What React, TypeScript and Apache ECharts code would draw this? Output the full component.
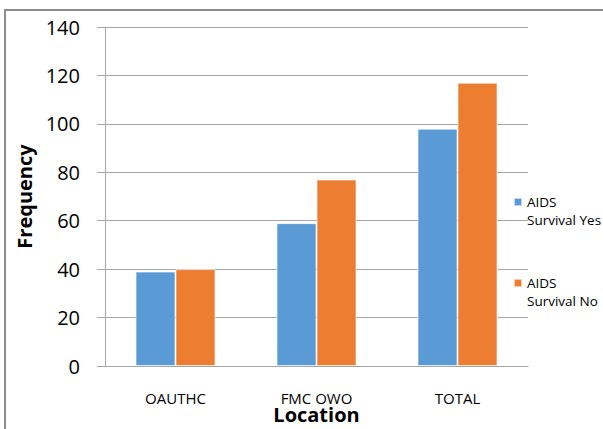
import React, { useEffect, useRef } from "react";
import * as echarts from "echarts";

const categories = ["OAUTHC", "FMC OWO", "TOTAL"];
const survivalYes = [39, 59, 98];
const survivalNo = [40, 77, 117];
const seriesNames = ["AIDS Survival Yes", "AIDS Survival No"];
const yTicks = { min: 0, max: 140, interval: 20 };

const FONT = "'Open Sans', 'Liberation Sans', sans-serif";
const GRAY = "#a6a6a6";

export default function App() {
  const ref = useRef<HTMLDivElement>(null);
  useEffect(() => {
    if (!ref.current) return;
    const chart = echarts.init(ref.current, undefined, { renderer: "svg", width: 603, height: 429 });
    chart.setOption({
      animation: false,
      backgroundColor: "#ffffff",
      textStyle: { fontFamily: FONT },
      grid: { left: 105, width: 423, top: 27, height: 339, containLabel: false, outerBoundsMode: "none" },
      graphic: [
        { type: "line", shape: { x1: 5, y1: 10, x2: 5, y2: 429 }, style: { stroke: "#8c8c8c", lineWidth: 2 } },
        { type: "line", shape: { x1: 4, y1: 10, x2: 603, y2: 10 }, style: { stroke: "#8c8c8c", lineWidth: 2 } },
      ],
      legend: {
        orient: "vertical",
        left: 513,
        top: 193,
        padding: 0,
        itemGap: 45,
        itemWidth: 8,
        itemHeight: 26,
        icon: "path://M0,0h8v8h-8zM0,26h0.01v0.01h-0.01z",
        formatter: (name: string) => name.replace("AIDS ", "AIDS\n"),
        textStyle: { fontFamily: FONT, fontSize: 13.5, color: "#000", lineHeight: 18 },
        data: seriesNames,
      },
      xAxis: {
        type: "category",
        data: categories,
        axisLine: { show: true, lineStyle: { color: GRAY, width: 1 } },
        axisTick: { show: false },
        axisLabel: { fontFamily: FONT, fontSize: 15, color: "#000", margin: 24 },
        name: "Location",
        nameLocation: "middle",
        nameMoveOverlap: false,
        nameGap: 37,
        nameTextStyle: { fontFamily: FONT, fontSize: 20, fontWeight: "bold", color: "#000", lineHeight: 22 },
      },
      yAxis: {
        type: "value",
        min: yTicks.min,
        max: yTicks.max,
        interval: yTicks.interval,
        axisLine: { show: true, lineStyle: { color: GRAY, width: 1 } },
        axisTick: { show: true, length: 8, lineStyle: { color: GRAY } },
        splitLine: { show: true, lineStyle: { color: GRAY, width: 1 } },
        axisLabel: { fontFamily: FONT, fontSize: 20, color: "#000", margin: 25 },
        name: "Frequency",
        nameLocation: "middle",
        nameGap: 66,
        nameRotate: 90,
        nameTextStyle: { fontFamily: FONT, fontSize: 20, fontWeight: "bold", color: "#000" },
      },
      series: [
        {
          name: seriesNames[0],
          type: "bar",
          data: survivalYes,
          barWidth: 40,
          barGap: "0%",
          itemStyle: { color: "#5B9BD5", borderColor: "rgba(255,255,255,0.6)", borderWidth: 1 },
        },
        {
          name: seriesNames[1],
          type: "bar",
          data: survivalNo,
          barWidth: 40,
          barGap: "0%",
          itemStyle: { color: "#ED7D31", borderColor: "rgba(255,255,255,0.6)", borderWidth: 1 },
        },
      ],
    });
    return () => chart.dispose();
  }, []);
  return (
    <div
      ref={ref}
      style={{ position: "fixed", left: 0, top: 0, width: 603, height: 429, background: "#fff" }}
    />
  );
}
